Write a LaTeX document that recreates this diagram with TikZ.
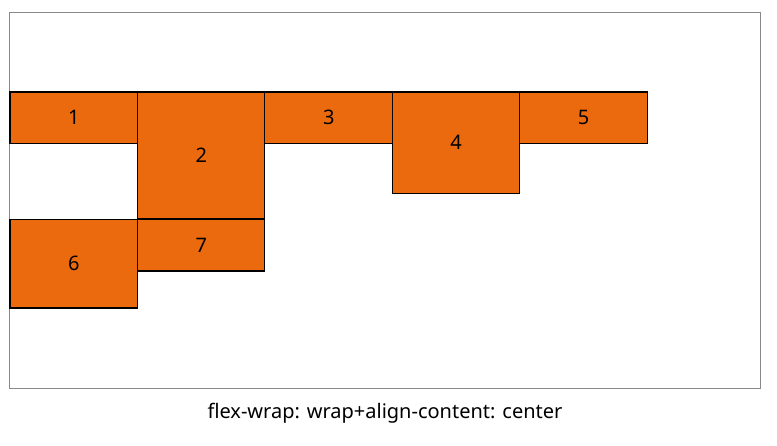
\documentclass[tikz,border=0pt]{standalone}
\usepackage{fontspec}
\setmainfont{Noto Sans}
\definecolor{boxorange}{RGB}{236,106,14}
\definecolor{framegray}{RGB}{136,136,136}
\begin{document}
\begin{tikzpicture}[x=1pt,y=-1pt,
  item/.style={draw=black,line width=1.1pt,fill=boxorange},
  lbl/.style={font=\fontsize{20}{22}\selectfont,inner sep=0pt,anchor=center}]
\useasboundingbox (0,0) rectangle (777,445);
\draw[framegray,line width=1pt] (9.5,12.5) rectangle (760.5,388);
% row 1
\draw[item] (10,92) rectangle (137.7,143.4) node[lbl,midway] (n1) {1};
\draw[item] (137.7,92) rectangle (264.8,218.6) node[lbl,midway] (n2) {2};
\draw[item] (264.8,92) rectangle (392.7,143.4) node[lbl,midway] (n3) {3};
\draw[item] (392.7,92) rectangle (519.7,193.5) node[lbl,midway] (n4) {4};
\draw[item] (519.7,92) rectangle (647.5,143.4) node[lbl,midway] (n5) {5};
% row 2
\draw[item] (10,219.2) rectangle (137.7,308) node[lbl,midway] (n6) {6};
\draw[item] (137.7,219.2) rectangle (264.8,271) node[lbl,midway] (n7) {7};
\node[lbl] (cap) at (385,413) {flex-wrap: wrap+align-content: center};
\end{tikzpicture}
\end{document}
